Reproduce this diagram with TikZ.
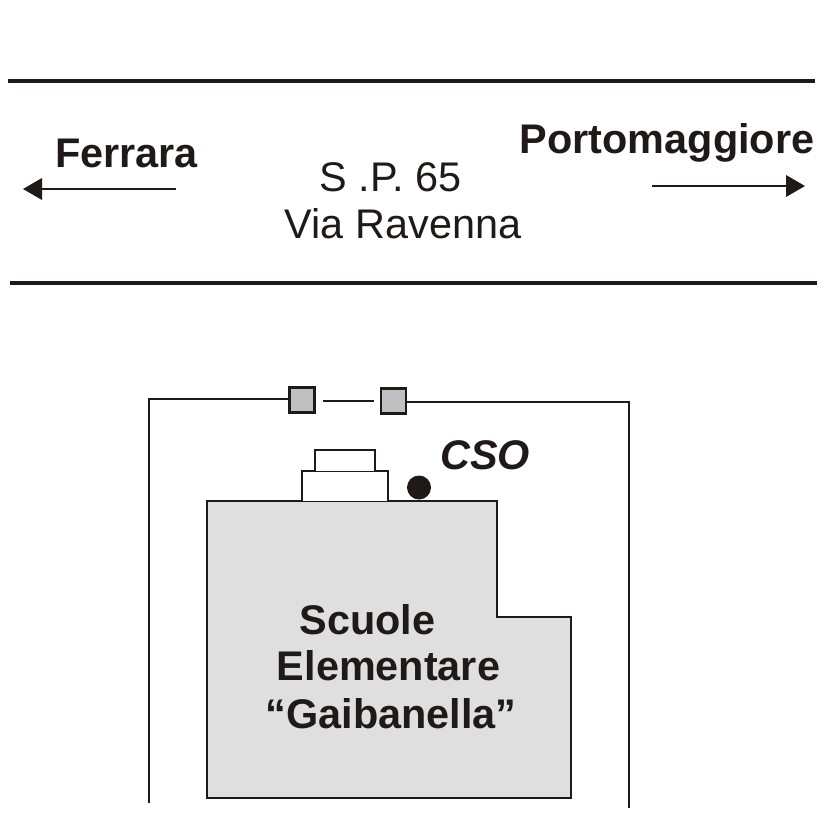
\documentclass[tikz,border=0pt]{standalone}
\usepackage{fontspec}
\setmainfont{Liberation Sans}
\definecolor{ink}{HTML}{1F1A17}
\definecolor{bldg}{HTML}{DEDFDE}
\definecolor{gatec}{HTML}{C0C0C2}
\tikzset{
  road/.style={draw=ink,line width=4pt},
  fence/.style={draw=ink,line width=2pt},
  thin/.style={draw=ink,line width=1.8pt},
  gatebox/.style={draw=ink,line width=2.2pt,fill=gatec,minimum size=25pt,inner sep=0pt},
  label/.style={text=ink,anchor=base,inner sep=0pt,font=\fontsize{41.4}{41.4}\selectfont},
  blabel/.style={label,font=\fontsize{41.4}{41.4}\selectfont\bfseries},
  head/.style={fill=ink,draw=none}
}
\begin{document}
\begin{tikzpicture}[x=1pt,y=-1pt]
\useasboundingbox (0,0) rectangle (826,826);
\fill[white] (0,0) rectangle (826,826);
% road
\coordinate (r1a) at (8,81); \coordinate (r1b) at (815,81);
\coordinate (r2a) at (10,282.5); \coordinate (r2b) at (817,282.5);
\draw[road] (r1a) -- (r1b);
\draw[road] (r2a) -- (r2b);
% labels
\node[blabel] (ferrara) at (126.5,168) {Ferrara};
\node[blabel] (porto) at (667,154) {Portomaggiore};
\node[label] (sp) at (390.5,192) {S .P. 65};
\node[label] (via) at (403,238) {Via Ravenna};
% arrows
\coordinate (la) at (176,189); \coordinate (lb) at (40,189);
\coordinate (ra) at (652,186); \coordinate (rb) at (788,186);
\draw[thin] (la) -- (lb);
\draw[thin] (ra) -- (rb);
\fill[head] (23,189) -- (42,178) -- (42,200) -- cycle;
\fill[head] (805,186) -- (786,175) -- (786,197) -- cycle;
% building
\path[draw=ink,line width=2pt,fill=bldg] (207,501) -- (497,501) -- (497,616.5) -- (571,616.5) -- (571,798) -- (207,798) -- cycle;
\draw[fence,fill=white] (302,501) -- (302,470.5) -- (388,470.5) -- (388,501);
\draw[fence,fill=white] (315,470.5) -- (315,449.5) -- (375,449.5) -- (375,470.5);
% fence
\node[gatebox] (g1) at (302,400) {};
\node[gatebox] (g2) at (393.5,401) {};
\coordinate (fl) at (149,803); \coordinate (ftl) at (149,399);
\coordinate (fr) at (629,808); \coordinate (ftr) at (629,401.5);
\coordinate (ma) at (323,401); \coordinate (mb) at (374,401);
\draw[fence] (fl) -- (ftl) -- (g1.west |- ftl);
\draw[fence] (ma) -- (mb);
\draw[fence] (g2.east |- ftr) -- (ftr) -- (fr);
% CSO
\node[circle,fill=ink,minimum size=24pt,inner sep=0pt] (dot) at (419,487.5) {};
\node[blabel,font=\fontsize{41.4}{41.4}\selectfont\bfseries\itshape] (cso) at (485,469) {CSO};
% school name
\node[blabel] (s1) at (367.5,634) {Scuole};
\node[blabel] (s2) at (388.5,680) {Elementare};
\node[blabel] (s3) at (391,728) {“Gaibanella”};
\end{tikzpicture}
\end{document}
